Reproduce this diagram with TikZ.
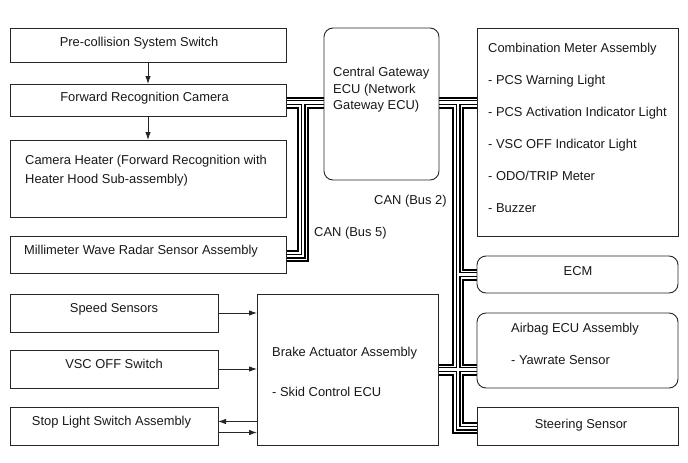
\documentclass[tikz,border=0pt]{standalone}
\usepackage{fontspec}
\setmainfont{Liberation Sans}
\usetikzlibrary{calc,arrows.meta}
\pgfdeclarelayer{bg}
\pgfsetlayers{bg,main}
\newcommand\fsz{\fontsize{12.9}{15}\selectfont}
\begin{document}
\begin{tikzpicture}[x=1pt,y=-1pt,
  box/.style={draw=black!85, line width=0.9pt, anchor=north west, inner sep=0pt, outer sep=0pt},
  rbox/.style={box, rounded corners=9pt},
  txt/.style={font=\fsz, inner sep=0pt, anchor=base west, text=black!90},
  ctxt/.style={font=\fsz, inner sep=0pt, anchor=base, text=black!90},
  arr/.style={draw=black!85, line width=0.9pt, -{Latex[length=8pt,width=5.5pt]}}
  ]
\useasboundingbox (0,0) rectangle (688,463);
% boxes
\node[box, minimum width=276pt, minimum height=34pt] (pcs) at (10,28) {};
\node[box, minimum width=276pt, minimum height=32pt] (cam) at (10,84) {};
\node[box, minimum width=276pt, minimum height=77pt] (heat) at (10,140) {};
\node[box, minimum width=276pt, minimum height=37pt] (rad) at (10,236) {};
\node[box, minimum width=208pt, minimum height=38pt] (spd) at (10,294) {};
\node[box, minimum width=208pt, minimum height=38pt] (vsc) at (10,350) {};
\node[box, minimum width=208pt, minimum height=38pt] (stp) at (10,407) {};
\node[box, minimum width=181pt, minimum height=151pt] (brk) at (257,294) {};
\node[rbox, minimum width=115pt, minimum height=152pt] (gw) at (324,28) {};
\node[box, minimum width=201pt, minimum height=208pt] (cm) at (477,28) {};
\node[rbox, minimum width=201pt, minimum height=37pt] (ecm) at (477,256) {};
\node[rbox, minimum width=201pt, minimum height=75pt] (ab) at (477,313) {};
\node[box, minimum width=201pt, minimum height=38pt] (st) at (477,407) {};
% texts
\node[ctxt] (tpcs) at (139,46) {Pre-collision System Switch};
\node[ctxt] (tcam) at (144.5,101.5) {Forward Recognition Camera};
\node[txt] (theat1) at (25,164.5) {Camera Heater (Forward Recognition with};
\node[txt] (theat2) at (25,183.5) {Heater Hood Sub-assembly)};
\node[ctxt] (trad) at (141,254.5) {Millimeter Wave Radar Sensor Assembly};
\node[ctxt] (tspd) at (114,312) {Speed Sensors};
\node[ctxt] (tvsc) at (114,368) {VSC OFF Switch};
\node[ctxt] (tstp) at (111.5,425.5) {Stop Light Switch Assembly};
\node[txt] (tbrk1) at (272,356.5) {Brake Actuator Assembly};
\node[txt] (tbrk2) at (272,396.5) {- Skid Control ECU};
\node[txt] (tgw1) at (333,76.5) {Central Gateway};
\node[txt] (tgw2) at (333,93.5) {ECU (Network};
\node[txt] (tgw3) at (333,109.5) {Gateway ECU)};
\node[txt] (tcm0) at (488,52.5) {Combination Meter Assembly};
\node[txt] (tcm1) at (488,84.5) {- PCS Warning Light};
\node[txt] (tcm2) at (488,116.5) {- PCS Activation Indicator Light};
\node[txt] (tcm3) at (488,148.5) {- VSC OFF Indicator Light};
\node[txt] (tcm4) at (488,180.5) {- ODO/TRIP Meter};
\node[txt] (tcm5) at (488,212.5) {- Buzzer};
\node[ctxt] (tecm) at (578,275.5) {ECM};
\node[txt] (tab1) at (511,332.5) {Airbag ECU Assembly};
\node[txt] (tab2) at (511,364.5) {- Yawrate Sensor};
\node[ctxt] (tst) at (581,428.5) {Steering Sensor};
\node[txt] (tcan2) at (374,204.5) {CAN (Bus 2)};
\node[txt] (tcan5) at (314,236.5) {CAN (Bus 5)};
% arrows
\draw[arr] (pcs.south) -- (cam.north);
\draw[arr] (cam.south) -- (heat.north);
\draw[arr] (spd.east) -- (spd.east -| brk.west);
\draw[arr] (vsc.east) -- (vsc.east -| brk.west);
\coordinate (sa) at ($(stp.east)+(0,-4.5)$);
\coordinate (sb) at ($(stp.east)+(0,6.5)$);
\draw[arr] (sa -| brk.west) -- (sa);
\draw[arr] (sb) -- (sb -| brk.west);
% bus coordinates
\coordinate (b5a) at ($(cam.east)+(0,2.5)$);
\coordinate (j5) at (303,102.5);
\coordinate (r5) at ($(rad.east)+(0,1.5)$);
\coordinate (b2a) at (gw.east |- b5a);
\coordinate (j2) at (458,102.5);
\coordinate (s2) at ($(st.west)+(0,2)$);
\begin{pgfonlayer}{bg}
\fill[white] (0,0) rectangle (688,463);
\foreach \w/\c in {12/black, 8/white, 5/black, 2.5/white}{
  \begin{scope}[line width=\w pt, draw=\c, line join=miter, line cap=butt]
    \draw (b5a) -- (b5a -| gw.west);
    \draw (j5) -- (j5 |- r5) -- (r5);
    \draw (b2a) -- (b2a -| cm.west);
    \draw (j2) -- (j2 |- s2) -- (s2);
    \draw (j2 |- ecm.west) -- (ecm.west);
    \draw (brk.east) -- (brk.east -| ab.west);
  \end{scope}
}
\end{pgfonlayer}
\end{tikzpicture}
\end{document}
